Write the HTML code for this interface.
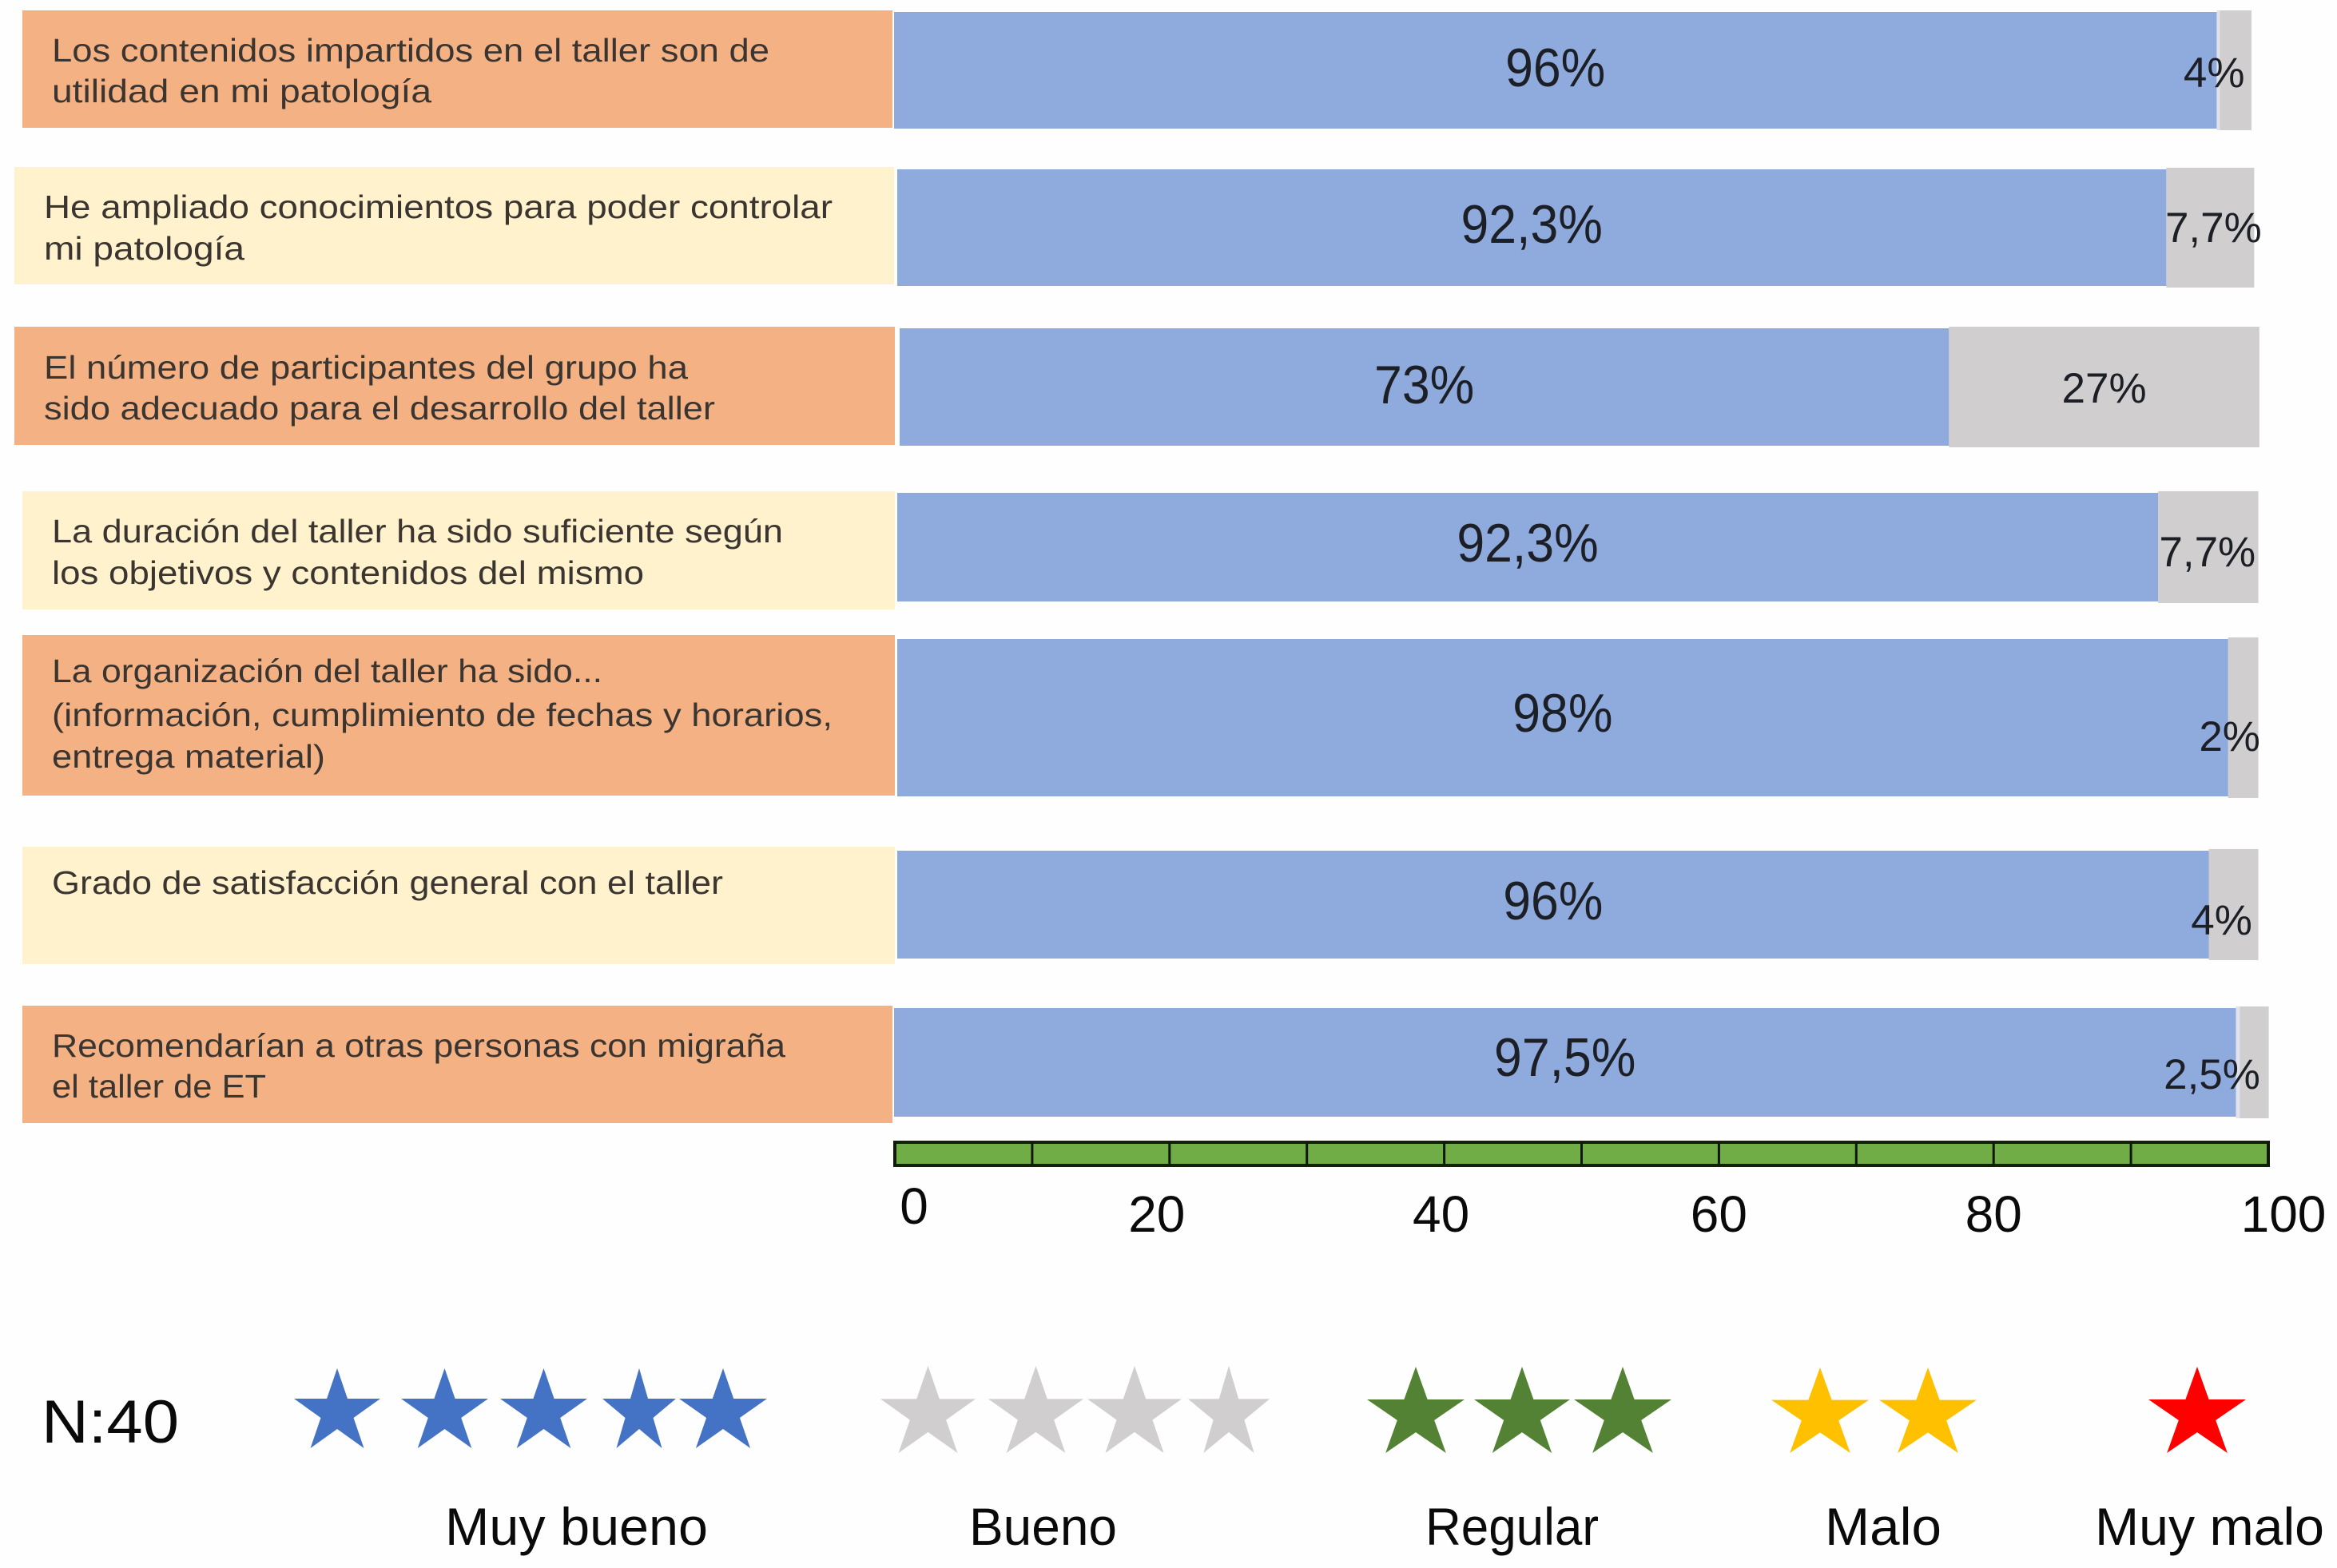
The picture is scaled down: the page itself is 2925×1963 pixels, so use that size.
<!DOCTYPE html>
<html lang="es">
<head>
<meta charset="utf-8">
<title>Valoración del taller</title>
<style>
html,body{margin:0;padding:0;background:#fff;width:2925px;height:1963px;overflow:hidden}
svg{display:block}
text{font-family:"Liberation Sans",sans-serif}
.q{font-size:41px;fill:#3a3530}
.leg{font-size:66px;fill:#0a0a0a}
</style>
</head>
<body>
<svg id="chart" xmlns="http://www.w3.org/2000/svg" width="2925" height="1963" viewBox="0 0 2925 1963">
  <rect width="2925" height="1963" fill="#fefefe"/>

  <g>
    <rect x="28" y="13" width="1089" height="147" fill="#F4B183"/>
    <text class="q" x="65" y="77" textLength="898" lengthAdjust="spacingAndGlyphs">Los contenidos impartidos en el taller son de</text>
    <text class="q" x="65" y="128" textLength="475" lengthAdjust="spacingAndGlyphs">utilidad en mi patología</text>

    <rect x="18" y="209" width="1101" height="147" fill="#FFF2CC"/>
    <text class="q" x="55" y="273" textLength="987" lengthAdjust="spacingAndGlyphs">He ampliado conocimientos para poder controlar</text>
    <text class="q" x="55" y="325" textLength="251" lengthAdjust="spacingAndGlyphs">mi patología</text>

    <rect x="18" y="409" width="1102" height="148" fill="#F4B183"/>
    <text class="q" x="55" y="474" textLength="806" lengthAdjust="spacingAndGlyphs">El número de participantes del grupo ha</text>
    <text class="q" x="55" y="525" textLength="840" lengthAdjust="spacingAndGlyphs">sido adecuado para el desarrollo del taller</text>

    <rect x="28" y="615" width="1092" height="148" fill="#FFF2CC"/>
    <text class="q" x="65" y="679" textLength="915" lengthAdjust="spacingAndGlyphs">La duración del taller ha sido suficiente según</text>
    <text class="q" x="65" y="731" textLength="741" lengthAdjust="spacingAndGlyphs">los objetivos y contenidos del mismo</text>

    <rect x="28" y="795" width="1092" height="201" fill="#F4B183"/>
    <text class="q" x="65" y="854" textLength="689" lengthAdjust="spacingAndGlyphs">La organización del taller ha sido...</text>
    <text class="q" x="65" y="909" textLength="977" lengthAdjust="spacingAndGlyphs">(información, cumplimiento de fechas y horarios,</text>
    <text class="q" x="65" y="961" textLength="342" lengthAdjust="spacingAndGlyphs">entrega material)</text>

    <rect x="28" y="1060" width="1092" height="147" fill="#FFF2CC"/>
    <text class="q" x="65" y="1119" textLength="840" lengthAdjust="spacingAndGlyphs">Grado de satisfacción general con el taller</text>

    <rect x="28" y="1259" width="1089" height="147" fill="#F4B183"/>
    <text class="q" x="65" y="1323" textLength="918" lengthAdjust="spacingAndGlyphs">Recomendarían a otras personas con migraña</text>
    <text class="q" x="65" y="1374" textLength="268" lengthAdjust="spacingAndGlyphs">el taller de ET</text>
  </g>

  <g id="bars"></g>
  <g id="axis"></g>

  <g>
    <text x="52" y="1806" font-size="76" fill="#0a0a0a" textLength="172" lengthAdjust="spacingAndGlyphs">N:40</text>

    <g fill="#4472C4">
      <polygon transform="translate(368,1713) scale(108,100)" points=".5,0 .62,.38 1,.38 .69,.62 .81,1 .5,.76 .19,1 .31,.62 0,.38 .38,.38"/>
      <polygon transform="translate(502,1713) scale(109,100)" points=".5,0 .62,.38 1,.38 .69,.62 .81,1 .5,.76 .19,1 .31,.62 0,.38 .38,.38"/>
      <polygon transform="translate(626,1713) scale(109,100)" points=".5,0 .62,.38 1,.38 .69,.62 .81,1 .5,.76 .19,1 .31,.62 0,.38 .38,.38"/>
      <polygon transform="translate(754,1713) scale(92,100)" points=".5,0 .62,.38 1,.38 .69,.62 .81,1 .5,.76 .19,1 .31,.62 0,.38 .38,.38"/>
      <polygon transform="translate(850,1713) scale(110,100)" points=".5,0 .62,.38 1,.38 .69,.62 .81,1 .5,.76 .19,1 .31,.62 0,.38 .38,.38"/>
    </g>
    <g fill="#D0CECE">
      <polygon transform="translate(1102,1710) scale(119,109)" points=".5,0 .62,.38 1,.38 .69,.62 .81,1 .5,.76 .19,1 .31,.62 0,.38 .38,.38"/>
      <polygon transform="translate(1237,1710) scale(119,109)" points=".5,0 .62,.38 1,.38 .69,.62 .81,1 .5,.76 .19,1 .31,.62 0,.38 .38,.38"/>
      <polygon transform="translate(1361,1710) scale(118,109)" points=".5,0 .62,.38 1,.38 .69,.62 .81,1 .5,.76 .19,1 .31,.62 0,.38 .38,.38"/>
      <polygon transform="translate(1487,1710) scale(102,109)" points=".5,0 .62,.38 1,.38 .69,.62 .81,1 .5,.76 .19,1 .31,.62 0,.38 .38,.38"/>
    </g>
    <g fill="#548235">
      <polygon transform="translate(1711,1711) scale(122,108)" points=".5,0 .62,.38 1,.38 .69,.62 .81,1 .5,.76 .19,1 .31,.62 0,.38 .38,.38"/>
      <polygon transform="translate(1845,1711) scale(120,108)" points=".5,0 .62,.38 1,.38 .69,.62 .81,1 .5,.76 .19,1 .31,.62 0,.38 .38,.38"/>
      <polygon transform="translate(1970,1711) scale(122,108)" points=".5,0 .62,.38 1,.38 .69,.62 .81,1 .5,.76 .19,1 .31,.62 0,.38 .38,.38"/>
    </g>
    <g fill="#FFC000">
      <polygon transform="translate(2217,1712) scale(122,107)" points=".5,0 .62,.38 1,.38 .69,.62 .81,1 .5,.76 .19,1 .31,.62 0,.38 .38,.38"/>
      <polygon transform="translate(2352,1712) scale(122,107)" points=".5,0 .62,.38 1,.38 .69,.62 .81,1 .5,.76 .19,1 .31,.62 0,.38 .38,.38"/>
    </g>
    <g fill="#FF0000">
      <polygon transform="translate(2689,1711) scale(122,108)" points=".5,0 .62,.38 1,.38 .69,.62 .81,1 .5,.76 .19,1 .31,.62 0,.38 .38,.38"/>
    </g>

    <text class="leg" x="557" y="1934" textLength="329" lengthAdjust="spacingAndGlyphs">Muy bueno</text>
    <text class="leg" x="1213" y="1934" textLength="185" lengthAdjust="spacingAndGlyphs">Bueno</text>
    <text class="leg" x="1784" y="1934" textLength="217" lengthAdjust="spacingAndGlyphs">Regular</text>
    <text class="leg" x="2284" y="1934" textLength="146" lengthAdjust="spacingAndGlyphs">Malo</text>
    <text class="leg" x="2622" y="1934" textLength="287" lengthAdjust="spacingAndGlyphs">Muy malo</text>
  </g>
</svg>

<script>
// Data
const categories = ['contenidos', 'conocimientos', 'participantes', 'duracion', 'organizacion', 'satisfaccion', 'recomendacion'];
const muyBuenoValues = [96.3, 92.4, 76.4, 91.8, 96.9, 95.5, 97.7];
const buenoValues = [2.3, 6.4, 22.6, 7.3, 2.2, 3.6, 2.1];
const muyBuenoLabels = ['96%', '92,3%', '73%', '92,3%', '98%', '96%', '97,5%'];
const buenoLabels = ['4%', '7,7%', '27%', '7,7%', '2%', '4%', '2,5%'];
const axisTickValues = [0, 10, 20, 30, 40, 50, 60, 70, 80, 90, 100];
const axisLabelValues = [0, 20, 40, 60, 80, 100];

// Hand-placed slide layout (not data)
const AXIS = { x0: 1120, x1: 2839, top: 1430, bottom: 1459 };
const bandLayout = [
  { shift: -1, top: 15, bottom: 161, pad: 2, gap: 4, base: 108, base2: 109, nudge: -27 },
  { shift: 3, top: 212, bottom: 358, pad: 2, gap: 0, base: 304, base2: 303, nudge: 4 },
  { shift: 6, top: 411, bottom: 558, pad: 2, gap: 0, base: 505, base2: 504, nudge: 0 },
  { shift: 3, top: 617, bottom: 753, pad: 2, gap: 0, base: 703, base2: 709, nudge: -1 },
  { shift: 3, top: 800, bottom: 997, pad: 2, gap: 0, base: 916, base2: 940, nudge: -17 },
  { shift: 3, top: 1065, bottom: 1200, pad: 2, gap: 0, base: 1151, base2: 1170, nudge: -15 },
  { shift: -1, top: 1262, bottom: 1398, pad: 2, gap: 5, base: 1347, base2: 1363, nudge: -53 }
];
const axisLabelNudge = [24, -16, -4, 0, 0, 19];
const axisLabelBase = [1532, 1542, 1542, 1542, 1542, 1542];

const SVG_NS = 'http://www.w3.org/2000/svg';
const unit = (AXIS.x1 - AXIS.x0) / 100;
const xScale = v => AXIS.x0 + v * unit;
const widthOf = v => v * unit;

function make(tag, attrs, parent, txt) {
  const el = document.createElementNS(SVG_NS, tag);
  for (const k in attrs) el.setAttribute(k, attrs[k]);
  if (txt !== undefined) el.textContent = txt;
  parent.appendChild(el);
  return el;
}

const barsG = document.getElementById('bars');
categories.forEach((cat, i) => {
  const b = bandLayout[i];
  const start = xScale(0) + b.shift;
  const blueW = widthOf(muyBuenoValues[i]);
  const blueEnd = start + blueW;
  const grayStart = blueEnd + b.gap;
  const grayW = widthOf(buenoValues[i]);

  if (b.gap > 0) {
    const gap = make('rect', { x: blueEnd, y: b.top - b.pad, width: b.gap, height: b.bottom - b.top + 2 * b.pad, fill: '#dfe2ea' }, barsG);
    
    
  }

  const gray = make('rect', { x: grayStart, y: b.top - b.pad, width: grayW, height: b.bottom - b.top + 2 * b.pad, fill: '#D0CECE' }, barsG);
  
  

  const blue = make('rect', { x: start, y: b.top, width: blueW, height: b.bottom - b.top, fill: '#8FAADC' }, barsG);
  
  

  const blueLabel = make('text', { transform: 'translate(' + (start + blueW / 2) + ',' + b.base + ') scale(.92,1)', 'text-anchor': 'middle', 'font-size': 68, fill: '#1c1f26' }, barsG, muyBuenoLabels[i]);
  
  

  const grayLabel = make('text', { x: grayStart + grayW / 2 + b.nudge, y: b.base2, 'text-anchor': 'middle', 'font-size': 53, fill: '#1c1f26' }, barsG, buenoLabels[i]);
  
  
});

const axisG = document.getElementById('axis');
const axisBar = make('rect', { x: AXIS.x0, y: AXIS.top, width: AXIS.x1 - AXIS.x0, height: AXIS.bottom - AXIS.top, fill: '#70AD47', stroke: '#14200c', 'stroke-width': 4 }, axisG);



axisTickValues.forEach(v => {
  const tick = make('line', { x1: xScale(v), x2: xScale(v), y1: AXIS.top, y2: AXIS.bottom, stroke: '#10180a', 'stroke-width': 3 }, axisG);
  
  
});

axisLabelValues.forEach((v, i) => {
  const label = make('text', { x: xScale(v) + axisLabelNudge[i], y: axisLabelBase[i], 'text-anchor': 'middle', 'font-size': 64, fill: '#0a0a0a' }, axisG, String(v));
  
  
});
</script>
</body>
</html>
